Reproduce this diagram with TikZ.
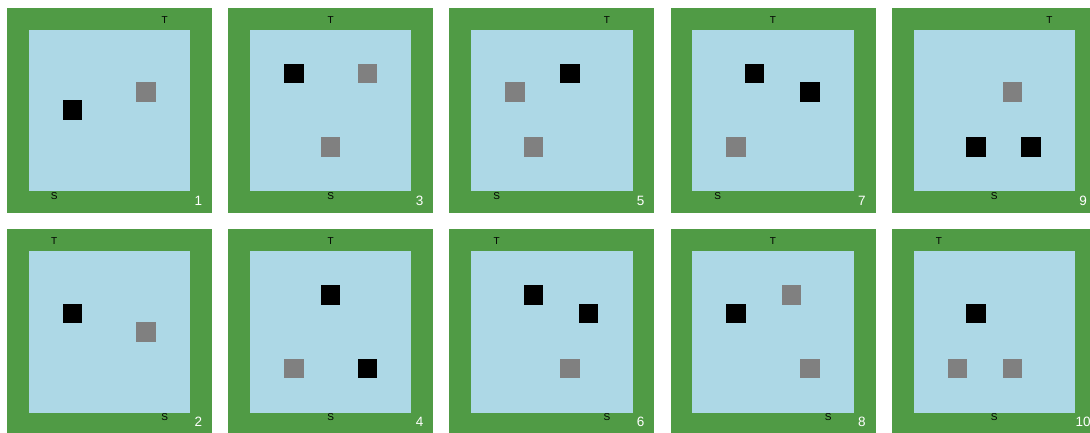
\documentclass[tikz,border=0pt]{standalone}
\usepackage{fontspec}
\setmainfont{Liberation Sans}

\definecolor{wallgreen}{RGB}{80,155,69}
\definecolor{floorblue}{RGB}{173,216,230}

\tikzstyle{wall} = [fill = wallgreen]
\tikzstyle{floor} = [fill = floorblue]
\tikzstyle{blocker} = [fill = black, minimum size = 19.6pt, inner sep = 0pt]
\tikzstyle{mover} = [fill = gray, minimum size = 19.6pt, inner sep = 0pt]
\tikzstyle{letter} = [inner sep = 0pt, font = \fontsize{10}{10}\selectfont]
\tikzstyle{number} = [inner sep = 0pt, text = white, font = \fontsize{13.5}{13.5}\selectfont]

\begin{document}
\begin{tikzpicture}[x = 1pt, y = -1pt]
		\useasboundingbox (0, 0) rectangle (1090, 433);
		\clip (0, 0) rectangle (1090, 433);

		% rooms, numbered down the columns
		\foreach \n/\col/\row in {1/0/0, 2/0/1, 3/1/0, 4/1/1, 5/2/0, 6/2/1, 7/3/0, 8/3/1, 9/4/0, 10/4/1} {
			\coordinate (room\n) at (109.4 + 221.2*\col, 110.3 + 221.5*\row);
			\fill [wall] ([shift = {(-102.5, -102.5)}] room\n) rectangle ([shift = {(102.5, 102.5)}] room\n);
			\fill [floor] ([shift = {(-80.7, -80.7)}] room\n) rectangle ([shift = {(80.7, 80.7)}] room\n);
			\node [number] (n\n) at ([shift = {(88.9, 90.4)}] room\n) {\n};
		}

		\begin{scope}[shift = {(room1)}, x = 18.4pt, y = -18.4pt]
			\node [blocker] (b1a) at (-2, 0) {};
			\node [mover] (g1a) at (2, -1) {};
			\node [letter] (t1) at (3, -4.91) {T};
			\node [letter] (s1) at (-3, 4.65) {S};
		\end{scope}

		\begin{scope}[shift = {(room2)}, x = 18.4pt, y = -18.4pt]
			\node [blocker] (b2a) at (-2, -1) {};
			\node [mover] (g2a) at (2, 0) {};
			\node [letter] (t2) at (-3, -4.91) {T};
			\node [letter] (s2) at (3, 4.65) {S};
		\end{scope}

		\begin{scope}[shift = {(room3)}, x = 18.4pt, y = -18.4pt]
			\node [blocker] (b3a) at (-2, -2) {};
			\node [mover] (g3a) at (2, -2) {};
			\node [mover] (g3b) at (0, 2) {};
			\node [letter] (t3) at (0, -4.91) {T};
			\node [letter] (s3) at (0, 4.65) {S};
		\end{scope}

		\begin{scope}[shift = {(room4)}, x = 18.4pt, y = -18.4pt]
			\node [blocker] (b4a) at (0, -2) {};
			\node [blocker] (b4b) at (2, 2) {};
			\node [mover] (g4a) at (-2, 2) {};
			\node [letter] (t4) at (0, -4.91) {T};
			\node [letter] (s4) at (0, 4.65) {S};
		\end{scope}

		\begin{scope}[shift = {(room5)}, x = 18.4pt, y = -18.4pt]
			\node [blocker] (b5a) at (1, -2) {};
			\node [mover] (g5a) at (-2, -1) {};
			\node [mover] (g5b) at (-1, 2) {};
			\node [letter] (t5) at (3, -4.91) {T};
			\node [letter] (s5) at (-3, 4.65) {S};
		\end{scope}

		\begin{scope}[shift = {(room6)}, x = 18.4pt, y = -18.4pt]
			\node [blocker] (b6a) at (-1, -2) {};
			\node [blocker] (b6b) at (2, -1) {};
			\node [mover] (g6a) at (1, 2) {};
			\node [letter] (t6) at (-3, -4.91) {T};
			\node [letter] (s6) at (3, 4.65) {S};
		\end{scope}

		\begin{scope}[shift = {(room7)}, x = 18.4pt, y = -18.4pt]
			\node [blocker] (b7a) at (-1, -2) {};
			\node [blocker] (b7b) at (2, -1) {};
			\node [mover] (g7a) at (-2, 2) {};
			\node [letter] (t7) at (0, -4.91) {T};
			\node [letter] (s7) at (-3, 4.65) {S};
		\end{scope}

		\begin{scope}[shift = {(room8)}, x = 18.4pt, y = -18.4pt]
			\node [blocker] (b8a) at (-2, -1) {};
			\node [mover] (g8a) at (1, -2) {};
			\node [mover] (g8b) at (2, 2) {};
			\node [letter] (t8) at (0, -4.91) {T};
			\node [letter] (s8) at (3, 4.65) {S};
		\end{scope}

		\begin{scope}[shift = {(room9)}, x = 18.4pt, y = -18.4pt]
			\node [blocker] (b9a) at (-1, 2) {};
			\node [blocker] (b9b) at (2, 2) {};
			\node [mover] (g9a) at (1, -1) {};
			\node [letter] (t9) at (3, -4.91) {T};
			\node [letter] (s9) at (0, 4.65) {S};
		\end{scope}

		\begin{scope}[shift = {(room10)}, x = 18.4pt, y = -18.4pt]
			\node [blocker] (b10a) at (-1, -1) {};
			\node [mover] (g10a) at (-2, 2) {};
			\node [mover] (g10b) at (1, 2) {};
			\node [letter] (t10) at (-3, -4.91) {T};
			\node [letter] (s10) at (0, 4.65) {S};
		\end{scope}
	\end{tikzpicture}
\end{document}
